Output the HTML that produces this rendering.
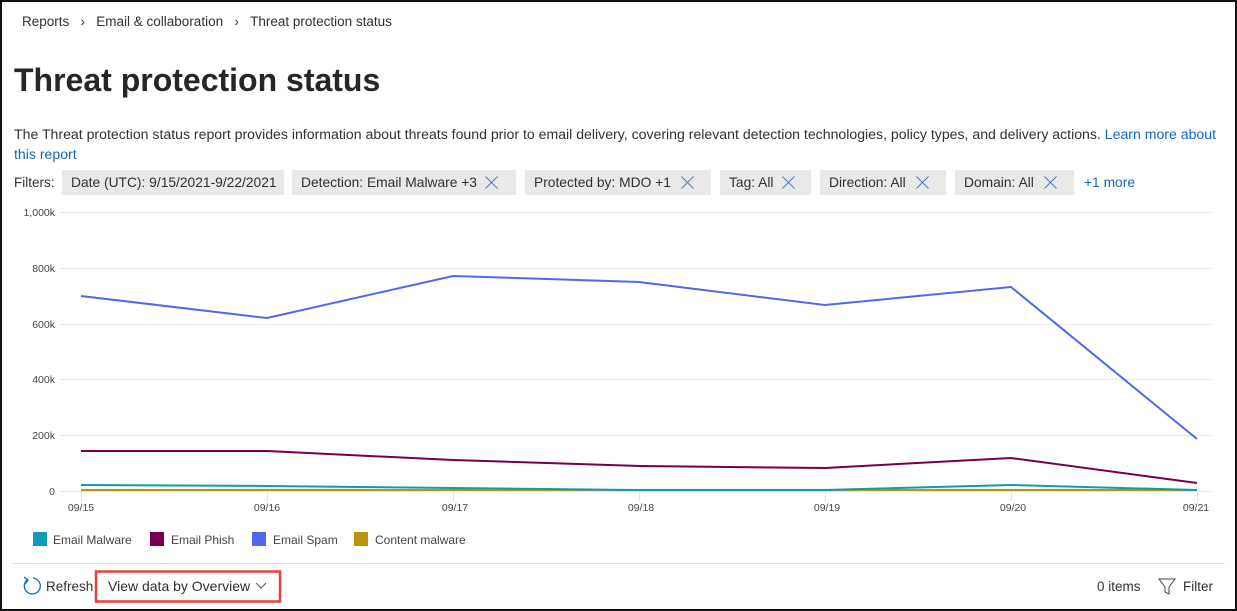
<!DOCTYPE html>
<html><head><meta charset="utf-8"><style>
*{margin:0;padding:0;box-sizing:border-box}
body{width:1237px;height:611px;overflow:hidden;background:#fff;font-family:"Liberation Sans",sans-serif;color:#323130;position:relative}
.frame{position:absolute;left:0;top:0;width:1237px;height:611px;border:2px solid #111}
.t{position:absolute;white-space:nowrap}
.chip{position:absolute;top:170px;height:25px;background:#e9e9e9;font-size:13.8px;line-height:25px;padding-left:9px;color:#323130}
.x{position:absolute;top:6px;width:13px;height:13px}
.x:before,.x:after{content:"";position:absolute;left:6px;top:-2px;width:1.2px;height:17px;background:#4a70c8;transform:rotate(45deg)}
.x:after{transform:rotate(-45deg)}
</style></head><body>
<div class="frame"></div>
<div class="t" style="left:22px;top:14px;font-size:13.5px">Reports&nbsp;&nbsp;&nbsp;›&nbsp;&nbsp;&nbsp;Email &amp; collaboration&nbsp;&nbsp;&nbsp;›&nbsp;&nbsp;&nbsp;Threat protection status</div>
<div class="t" style="left:14px;top:62px;font-size:32px;font-weight:bold;color:#262626">Threat protection status</div>
<div class="t" style="left:14px;top:124px;font-size:14.1px;line-height:20px">The Threat protection status report provides information about threats found prior to email delivery, covering relevant detection technologies, policy types, and delivery actions. <span style="color:#0f6cbd">Learn more about</span><br><span style="color:#0f6cbd">this report</span></div>
<div class="t" style="left:14px;top:175px;font-size:13.5px">Filters:</div>
<div class="chip" style="left:62px;width:222px">Date (UTC): 9/15/2021-9/22/2021</div>
<div class="chip" style="left:292px;width:224px">Detection: Email Malware +3<span class="x" style="left:193px"></span></div>
<div class="chip" style="left:525px;width:186px">Protected by: MDO +1<span class="x" style="left:156px"></span></div>
<div class="chip" style="left:720px;width:91px">Tag: All<span class="x" style="left:62px"></span></div>
<div class="chip" style="left:820px;width:126px">Direction: All<span class="x" style="left:96px"></span></div>
<div class="chip" style="left:955px;width:119px">Domain: All<span class="x" style="left:89px"></span></div>
<div class="t" style="left:1084px;top:175px;font-size:13.8px;color:#0f6cbd">+1 more</div>
<svg style="position:absolute;left:0;top:0" width="1237" height="611">
<g stroke="#e6e6e6" stroke-width="1">
<line x1="60" x2="1211" y1="212.5" y2="212.5"/><line x1="60" x2="1211" y1="268.5" y2="268.5"/><line x1="60" x2="1211" y1="324.5" y2="324.5"/><line x1="60" x2="1211" y1="379.5" y2="379.5"/><line x1="60" x2="1211" y1="435.5" y2="435.5"/><line x1="60" x2="1211" y1="491.5" y2="491.5"/>
<line x1="81.5" x2="81.5" y1="491" y2="502"/><line x1="267.5" x2="267.5" y1="491" y2="502"/><line x1="453.5" x2="453.5" y1="491" y2="502"/><line x1="639.5" x2="639.5" y1="491" y2="502"/><line x1="825.5" x2="825.5" y1="491" y2="502"/><line x1="1011.5" x2="1011.5" y1="491" y2="502"/><line x1="1197.5" x2="1197.5" y1="491" y2="502"/>
</g>
<g font-family="Liberation Sans" font-size="10.5" fill="#444" text-anchor="end">
<text x="55" y="216">1,000k</text><text x="55" y="272">800k</text><text x="55" y="328">600k</text><text x="55" y="383">400k</text><text x="55" y="439">200k</text><text x="55" y="495">0</text>
</g>
<g font-family="Liberation Sans" font-size="10.5" fill="#444" text-anchor="middle">
<text x="81" y="511">09/15</text><text x="267" y="511">09/16</text><text x="455" y="511">09/17</text><text x="641" y="511">09/18</text><text x="827" y="511">09/19</text><text x="1013" y="511">09/20</text><text x="1196" y="511">09/21</text>
</g>
<g fill="none" stroke-width="2">
<polyline stroke="#b8950a" points="81,490 267,490 453,490 639,490 825,490 1011,490 1197,490"/>
<polyline stroke="#0e9ab8" points="81,485 267,486 453,488 639,490 825,490 1011,485 1197,490"/>
<polyline stroke="#76004c" points="81,451 267,451 453,460 639,466 825,468 1011,458 1197,483"/>
<polyline stroke="#5068ee" points="81,296 267,318 453,276 639,282 825,305 1011,287 1197,439"/>
</g>
<rect x="33" y="532" width="14" height="14" fill="#0e9ab8"/>
<rect x="150" y="532" width="14" height="14" fill="#76004c"/>
<rect x="252" y="532" width="14" height="14" fill="#5068ee"/>
<rect x="354" y="532" width="14" height="14" fill="#b8950a"/>
<g font-family="Liberation Sans" font-size="12" fill="#444">
<text x="53" y="544">Email Malware</text><text x="171" y="544">Email Phish</text><text x="273" y="544">Email Spam</text><text x="375" y="544">Content malware</text>
</g>
<line x1="12" x2="1225" y1="563.5" y2="563.5" stroke="#e3e3e3"/>
<path d="M27 580 A8 8 0 1 0 33 578" fill="none" stroke="#0f6cbd" stroke-width="1.3"/>
<path d="M24 577 L28 580 L25 584" fill="none" stroke="#0f6cbd" stroke-width="1.3"/>
<rect x="96" y="571.5" width="184" height="30" fill="none" stroke="#e8403f" stroke-width="2.5"/>
<path d="M256 583 L261 588 L266 583" fill="none" stroke="#555" stroke-width="1"/>
<path d="M1159 579 L1175 579 L1169 587 L1169 594 L1165 592 L1165 587 Z" fill="none" stroke="#444" stroke-width="1"/>
</svg>
<div class="t" style="left:46px;top:579px;font-size:13.5px">Refresh</div>
<div class="t" style="left:108px;top:578px;font-size:14px">View data by Overview</div>
<div class="t" style="left:1097px;top:579px;font-size:13.5px">0 items</div>
<div class="t" style="left:1183px;top:579px;font-size:13.5px">Filter</div>
</body></html>
